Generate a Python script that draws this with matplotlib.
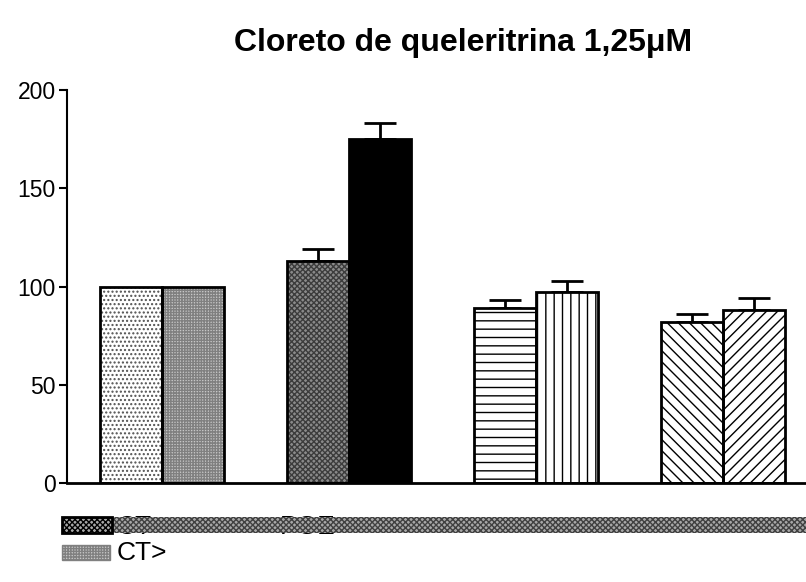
import matplotlib
matplotlib.use("Agg")
import matplotlib.pyplot as plt
from matplotlib.patches import Rectangle
import numpy as np

plt.rcParams['font.family'] = ['Liberation Sans', 'DejaVu Sans']
plt.rcParams['hatch.linewidth'] = 1.0

# group means (% of control) and SEM, two bars per group
left_vals = [100, 113, 89, 82]
left_err = [0, 6, 4, 4]
right_vals = [100, 175, 97, 88]
right_err = [0, 8, 6, 6]

# fill, hatch colour and hatch for each bar, left then right
left_style = [('white', '#505050', '....'),
              ('#8a8a8a', '#3c3c3c', 'xxxxxx'),
              ('white', 'black', '--'),
              ('white', 'black', '\\\\\\')]
right_style = [('#c8c8c8', '#808080', '++++++'),
               ('black', 'black', ''),
               ('white', 'black', '||'),
               ('white', 'black', '///')]

W, H = 806, 582
fig = plt.figure(figsize=(W / 100, H / 100), dpi=100)
ax = fig.add_axes([67 / W, 1 - 483 / H, 1 - 67 / W, (483 - 90) / H])

x = np.arange(len(left_vals))
width = 0.334

def draw_bars(pos, vals, errs, styles):
    for xi, v, e, (fc, hc, hatch) in zip(pos, vals, errs, styles):
        ax.bar(xi, v, width, color=fc, edgecolor=hc, hatch=hatch,
               linewidth=0, zorder=2)
        ax.bar(xi, v, width, fill=False, edgecolor='black', linewidth=2,
               zorder=3)
        if e > 0:
            ax.errorbar(xi, v, yerr=[[0], [e]], fmt='none', ecolor='black',
                        elinewidth=2, capsize=11.5, capthick=2, zorder=1)

draw_bars(x - width / 2, left_vals, left_err, left_style)
draw_bars(x + width / 2, right_vals, right_err, right_style)

ax.set_xlim(-0.508, 3.444)
ax.set_ylim(0, 200)
ax.set_yticks([0, 50, 100, 150, 200])
ax.set_xticks([])
ax.spines['top'].set_visible(False)
ax.spines['right'].set_visible(False)
ax.spines['left'].set_linewidth(1.5)
ax.spines['bottom'].set_linewidth(2)
ax.tick_params(axis='y', labelsize=16.5, length=6, width=1.5, pad=2)

fig.text(0.575, 1 - 43 / H, 'Cloreto de queleritrina 1,25\u03bcM',
         ha='center', va='center', fontsize=23, fontweight='bold')

# legend block under the axis
def fpx(x0, y0, w, h):
    return (x0 / W, 1 - (y0 + h) / H), w / W, h / H

fig.text(117 / W, 1 - 527 / H, 'CT', fontsize=19, va='center')
fig.text(280 / W, 1 - 527 / H, 'PGE', fontsize=19, va='center')
xy, w, h = fpx(112, 517, 694, 16)
fig.patches.append(Rectangle(xy, w, h, transform=fig.transFigure,
                             facecolor='#a8a8a8', edgecolor='#404040',
                             hatch='xxxxxx', linewidth=0, zorder=5))
xy, w, h = fpx(62, 517, 50, 16)
fig.patches.append(Rectangle(xy, w, h, transform=fig.transFigure,
                             facecolor='#a8a8a8', edgecolor='black',
                             hatch='xxxxxx', linewidth=2, zorder=6))
xy, w, h = fpx(62, 545, 48, 15)
fig.patches.append(Rectangle(xy, w, h, transform=fig.transFigure,
                             facecolor='#c8c8c8', edgecolor='#808080',
                             hatch='++++++', linewidth=1, zorder=6))
fig.text(117 / W, 1 - 553 / H, 'CT>', fontsize=19, va='center')

fig.savefig('out.png', dpi=100)
